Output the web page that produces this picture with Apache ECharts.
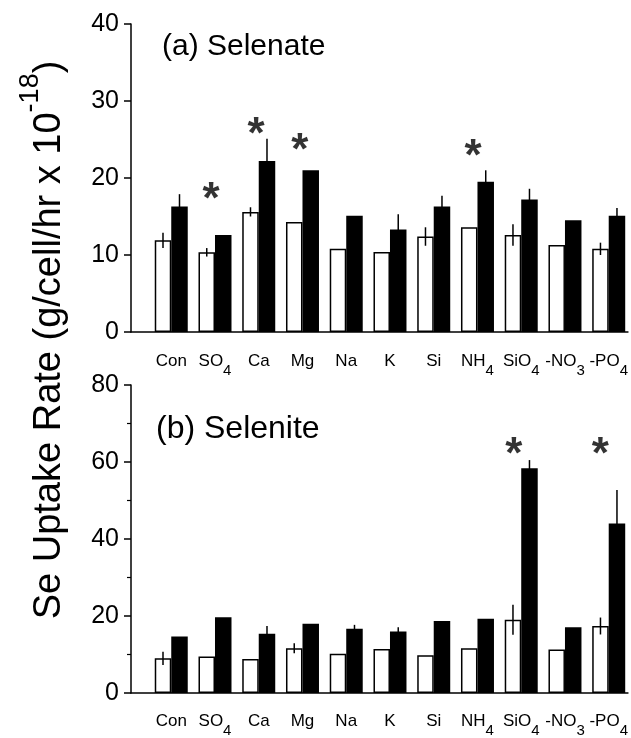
<!DOCTYPE html>
<html>
<head>
<meta charset="utf-8">
<title>Se uptake rate</title>
<script src="https://cdn.jsdelivr.net/npm/echarts@6/dist/echarts.min.js"></script>
<style>
  html, body { margin: 0; padding: 0; background: #fff; }
  #chart { width: 631px; height: 738px; }
</style>
</head>
<body>
<div id="chart"></div>
<script>
// categories (digits are written as subscripts)
const categories = ['Con', 'SO4', 'Ca', 'Mg', 'Na', 'K', 'Si', 'NH4', 'SiO4', '-NO3', '-PO4']

// (a) selenate: open bars = control, filled bars = treatment
const selenateOpen = [11.9, 10.35, 15.6, 14.3, 10.8, 10.4, 12.4, 13.6, 12.6, 11.3, 10.8]
const selenateFilled = [16.3, 12.6, 22.2, 21.0, 15.1, 13.3, 16.3, 19.5, 17.2, 14.5, 15.1]
const selenateOpenErr = [1.0, 0.55, 0.6, 0, 0, 0, 1.2, 0, 1.4, 0, 0.8]
const selenateFilledErr = [1.6, 0, 2.9, 0, 0, 2.0, 1.4, 1.5, 1.4, 0, 1.0]

// (b) selenite
const seleniteOpen = [9.0, 9.5, 8.8, 11.6, 10.2, 11.4, 9.8, 11.6, 19.0, 11.3, 17.4]
const seleniteFilled = [14.7, 19.7, 15.4, 18.0, 16.7, 16.0, 18.7, 19.3, 58.4, 17.1, 44.0]
const seleniteOpenErr = [1.7, 0, 0, 1.3, 0, 0, 0, 0, 3.9, 0, 2.2]
const seleniteFilledErr = [0, 0, 2.0, 0, 1.0, 1.1, 0, 0, 2.1, 0, 8.7]

// significance stars (category position, height)
const starsSelenateX = [0.91, 1.94, 2.94, 6.90]
const starsSelenateY = [18.2, 26.7, 24.5, 23.8]
const starsSeleniteX = [7.83, 9.81]
const starsSeleniteY = [64, 64]

// y axis ticks
const selenateTicks = { min: 0, max: 40, interval: 10 }
const seleniteTicks = { min: 0, max: 80, interval: 20 }

const FONT = 'Liberation Sans, Arial, Helvetica, sans-serif'
const BAR_W = 16.5

// 'SO4' -> '{n|SO}{s|4}'
function richLabel(name) {
  return name.replace(/([^0-9]+)|([0-9]+)/g, (m, txt, num) => (txt ? '{n|' + txt + '}' : '{s|' + num + '}'))
}

const chart = echarts.init(document.getElementById('chart'), null, { renderer: 'canvas' })

function xAxis(gridIndex, margin) {
  return {
    type: 'value',
    gridIndex: gridIndex,
    min: -0.92,
    max: 10.44,
    axisLine: { show: true, onZero: false, lineStyle: { color: '#000', width: 1.5 } },
    axisTick: { show: false },
    splitLine: { show: false },
    axisLabel: {
      customValues: categories.map((c, i) => i),
      margin: margin,
      formatter: v => richLabel(categories[Math.round(v)]),
      rich: {
        n: { fontFamily: FONT, fontSize: 17, color: '#000', verticalAlign: 'top' },
        s: { fontFamily: FONT, fontSize: 15, color: '#000', padding: [10, 0, 0, 0], verticalAlign: 'top' }
      }
    }
  }
}

function yAxis(gridIndex, ticks, minor) {
  return {
    type: 'value',
    gridIndex: gridIndex,
    min: ticks.min,
    max: ticks.max,
    interval: ticks.interval,
    axisLine: { show: true, onZero: false, lineStyle: { color: '#000', width: 1.5 } },
    axisTick: { show: true, length: 7, lineStyle: { color: '#000', width: 1.5 } },
    minorTick: { show: minor, splitNumber: 2, length: 4, lineStyle: { color: '#000', width: 1.2 } },
    splitLine: { show: false },
    axisLabel: { color: '#000', fontFamily: FONT, fontSize: 25, margin: 12 }
  }
}

function bars(values, gridIndex, filled) {
  return {
    type: 'bar',
    xAxisIndex: gridIndex,
    yAxisIndex: gridIndex,
    barWidth: BAR_W,
    barGap: '0%',
    data: values.map((v, i) => [i, v]),
    itemStyle: filled
      ? { color: '#000' }
      : { color: '#fff', borderColor: '#000', borderWidth: 1.5 },
    emphasis: { disabled: true },
    z: 2
  }
}

// vertical error lines, side -1 = open bar, 1 = filled bar
function errors(values, errs, gridIndex, side) {
  return {
    type: 'custom',
    xAxisIndex: gridIndex,
    yAxisIndex: gridIndex,
    data: values.map((v, i) => [i, v, errs[i]]),
    renderItem: (params, api) => {
      const err = api.value(2)
      if (!err) return
      const hi = api.coord([api.value(0), api.value(1) + err])
      const lo = api.coord([api.value(0), api.value(1) - err])
      const x = hi[0] + side * BAR_W / 2
      return {
        type: 'line',
        shape: { x1: x, y1: hi[1], x2: x, y2: lo[1] },
        style: { stroke: '#000', lineWidth: 1.5 }
      }
    },
    z: 3
  }
}

function stars(xs, ys, gridIndex) {
  return {
    type: 'scatter',
    xAxisIndex: gridIndex,
    yAxisIndex: gridIndex,
    symbolSize: 1,
    itemStyle: { color: 'rgba(0,0,0,0)' },
    data: xs.map((x, i) => [x, ys[i]]),
    label: {
      show: true,
      position: 'inside',
      formatter: '*',
      fontFamily: FONT,
      fontSize: 44,
      fontWeight: 'bold',
      color: '#000',
      offset: [0, 9]
    },
    z: 4
  }
}

const option = {
  animation: false,
  backgroundColor: '#fff',
  grid: [
    { left: 131, right: 0, top: 24, height: 308 },
    { left: 131, right: 0, top: 385, height: 308 }
  ],
  xAxis: [xAxis(0, 21), xAxis(1, 20)],
  yAxis: [yAxis(0, selenateTicks, false), yAxis(1, seleniteTicks, true)],
  title: [
    { text: '(a) Selenate', left: 162, top: 32, padding: 0, textStyle: { fontFamily: FONT, fontSize: 30, fontWeight: 'normal', color: '#000' } },
    { text: '(b) Selenite', left: 156, top: 413, padding: 0, textStyle: { fontFamily: FONT, fontSize: 32, fontWeight: 'normal', color: '#000' } }
  ],
  graphic: [
    {
      type: 'text',
      x: 43,
      y: 340,
      rotation: Math.PI / 2,
      style: {
        text: '{m|Se Uptake Rate (g/cell/hr x 10}{p|-18}{m|)}',
        align: 'center',
        verticalAlign: 'middle',
        rich: {
          m: { fontFamily: FONT, fontSize: 38, color: '#000', verticalAlign: 'bottom' },
          p: { fontFamily: FONT, fontSize: 27, color: '#000', verticalAlign: 'top', padding: [0, 0, 24, 0] }
        }
      }
    }
  ],
  series: [
    bars(selenateOpen, 0, false),
    bars(selenateFilled, 0, true),
    errors(selenateOpen, selenateOpenErr, 0, -1),
    errors(selenateFilled, selenateFilledErr, 0, 1),
    stars(starsSelenateX, starsSelenateY, 0),
    bars(seleniteOpen, 1, false),
    bars(seleniteFilled, 1, true),
    errors(seleniteOpen, seleniteOpenErr, 1, -1),
    errors(seleniteFilled, seleniteFilledErr, 1, 1),
    stars(starsSeleniteX, starsSeleniteY, 1)
  ]
}

chart.setOption(option)
</script>
</body>
</html>
